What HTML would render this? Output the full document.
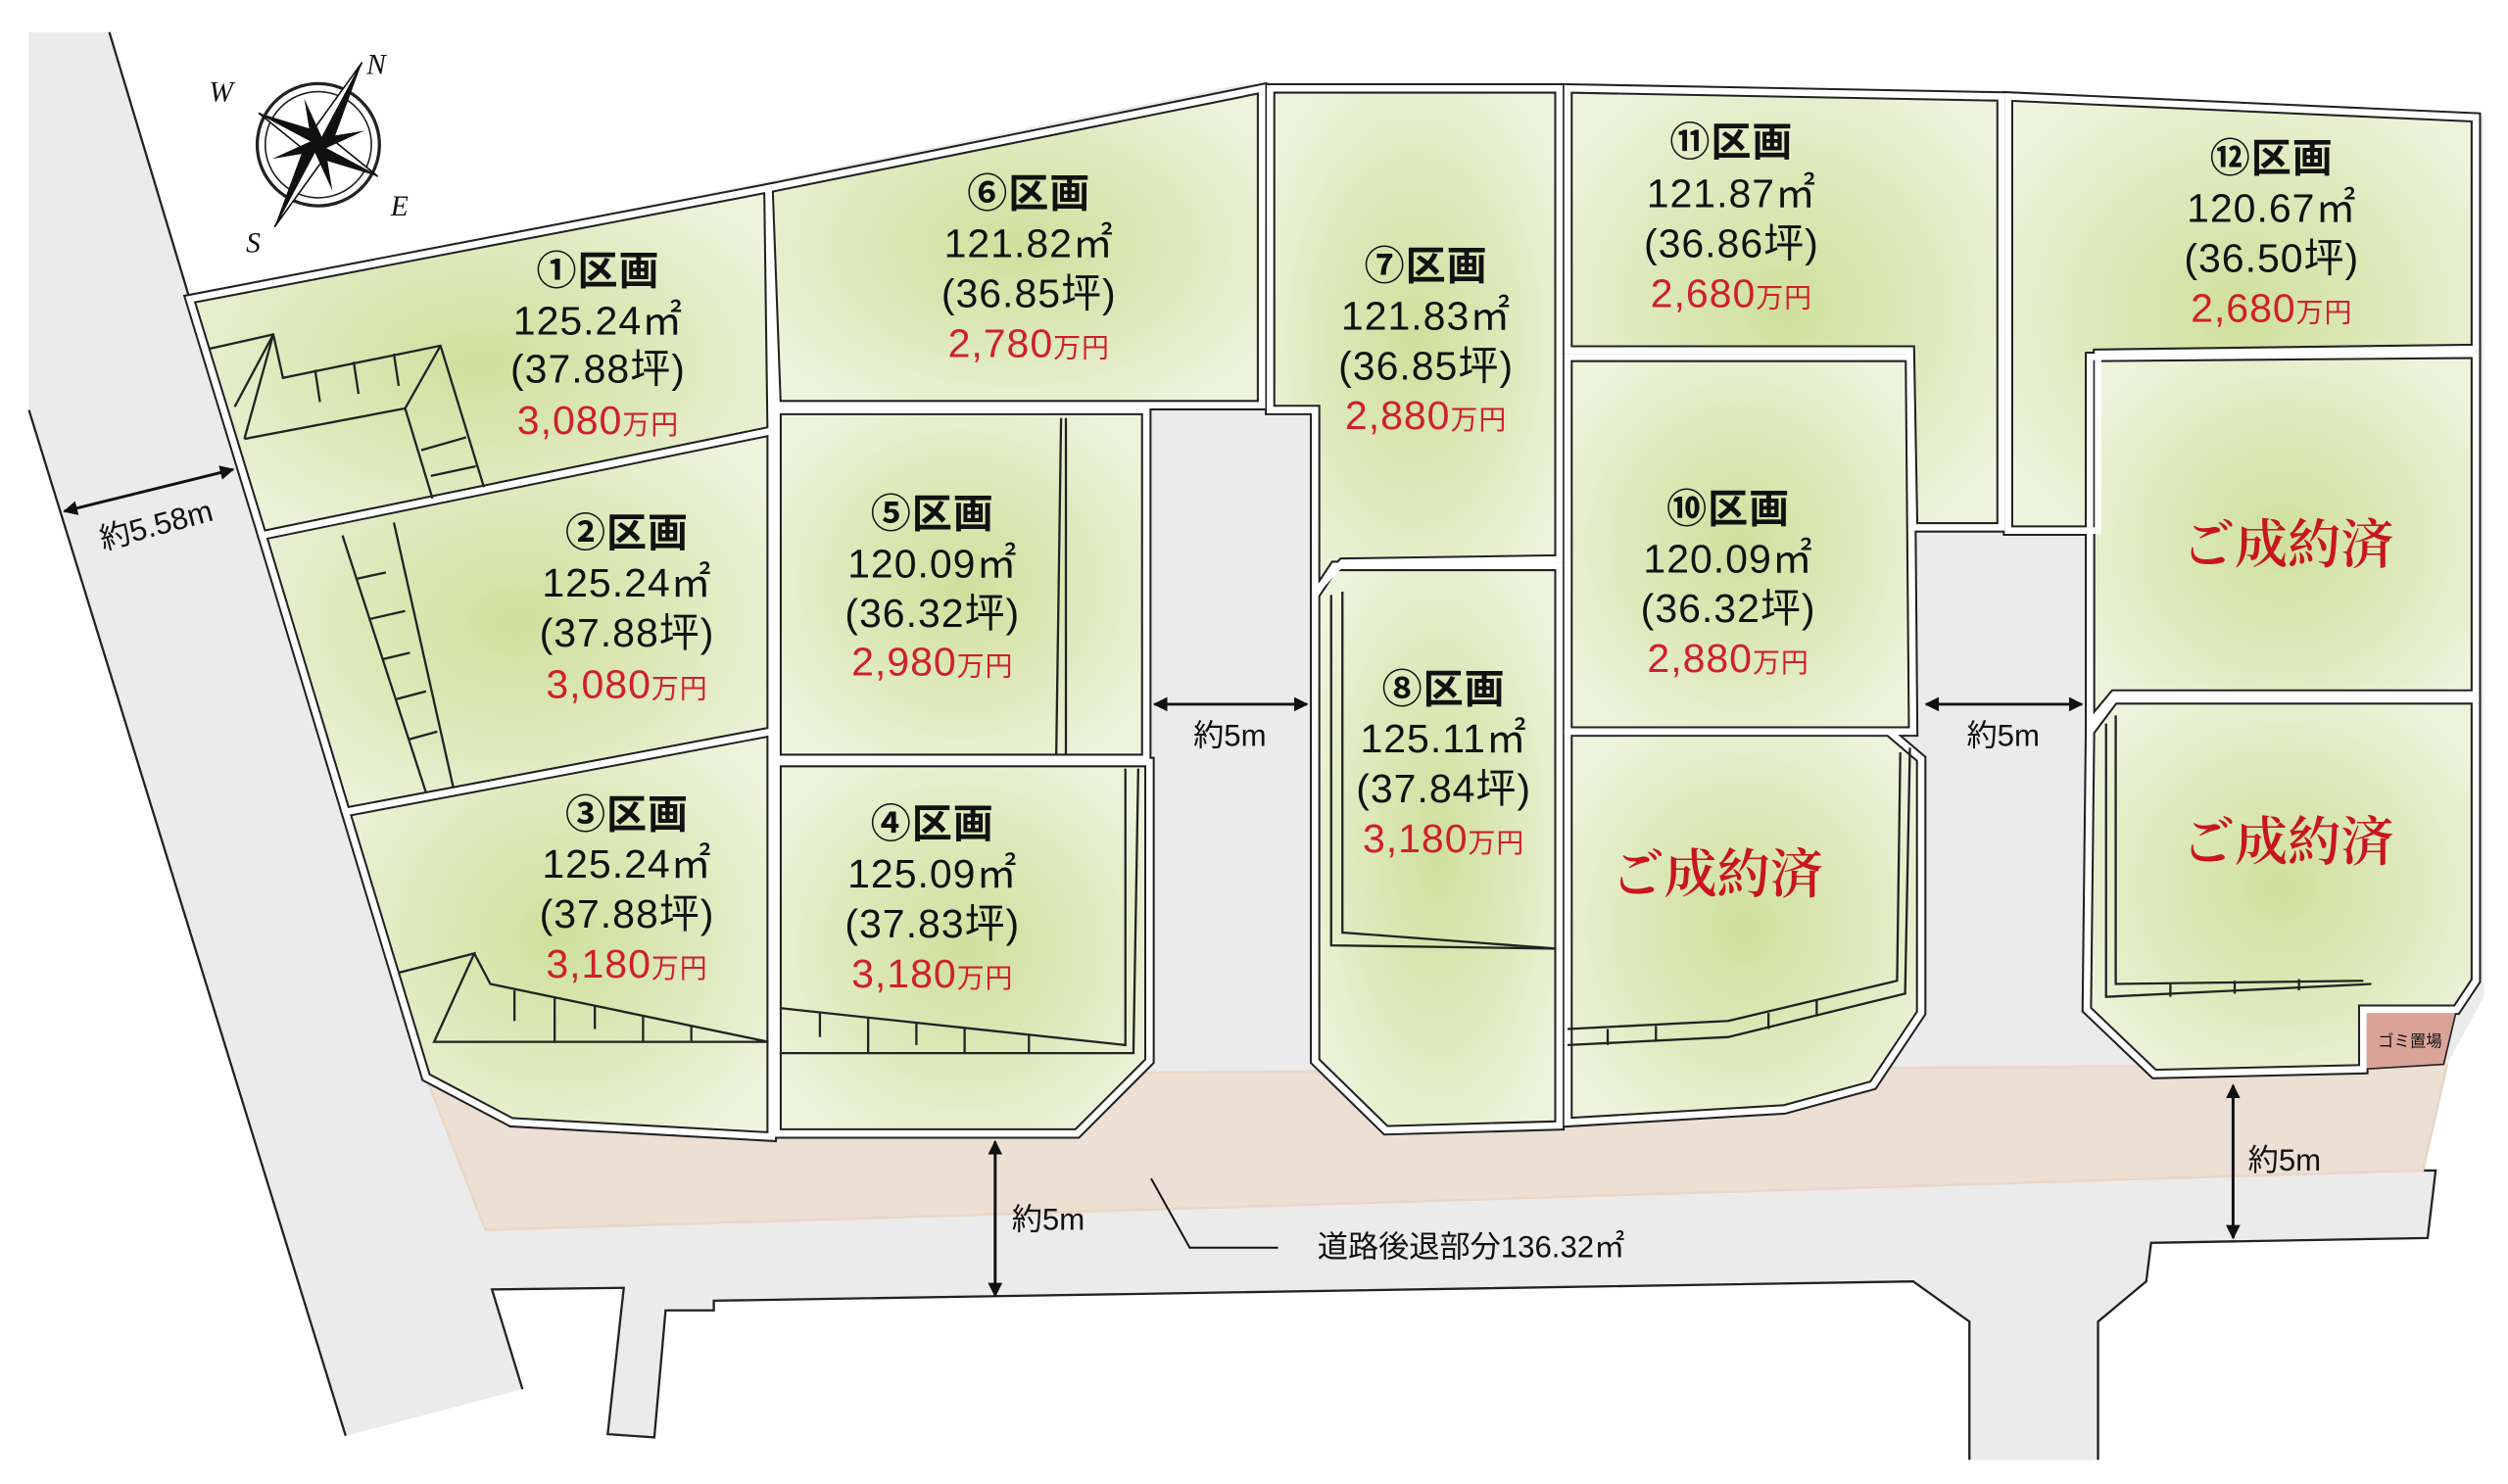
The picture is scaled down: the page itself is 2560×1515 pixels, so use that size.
<!DOCTYPE html>
<html><head><meta charset="utf-8"><style>
html,body{margin:0;padding:0;background:#fff;}
svg{display:block;}
.t{font-family:"Liberation Sans","Noto Sans CJK JP",sans-serif;text-anchor:middle;fill:#111;}
.n{letter-spacing:0.6px;}
.p{fill:#d0202a;}
.s{font-family:"Noto Serif CJK SC","Liberation Serif",serif;text-anchor:middle;fill:#c8161d;font-size:33px;font-weight:600;}
.lot{fill:url(#g);stroke:#222;stroke-width:6.5;stroke-linejoin:miter;}
.lot2{fill:none;stroke:#fff;stroke-width:4;stroke-linejoin:miter;}
.pk{fill:none;stroke:#222;stroke-width:1.4;}
.ln{fill:none;stroke:#222;stroke-width:1.4;}
</style></head><body>
<svg width="2560" height="1515" viewBox="0 0 1560 923" preserveAspectRatio="none" xmlns="http://www.w3.org/2000/svg">
<defs>
<radialGradient id="g" cx="0.5" cy="0.5" r="0.6">
<stop offset="0" stop-color="#cfe09c"/><stop offset="0.6" stop-color="#e0eabf"/><stop offset="1" stop-color="#eef3dc"/>
</radialGradient>
<marker id="a" viewBox="0 0 10 10" refX="9" refY="5" markerWidth="5" markerHeight="5" orient="auto-start-reverse"><path d="M0,0L10,5L0,10z" fill="#111"/></marker>
</defs>
<rect width="1560" height="923" fill="#fff"/>
<polygon fill="#ebebeb" points="18,20 68,20 118,186 775,52 1545,73 1545,620 1522,662 1507,728 1515,728 1510,770 1338,773 1335,797 1305,822 1305,908 1225,908 1225,822 1190,797 444,809 444,815 414,815 407,894 378,892 388,801 306,802 325,864 215,893 18,255"/>
<polyline class="ln" points="18,255 215,893"/>
<polyline class="ln" points="68,20 118,186"/>
<polyline class="ln" points="325,864 306,802 388,801 378,892 407,894 414,815 444,815 444,809 1190,797 1225,822 1225,908"/>
<polyline class="ln" points="1305,908 1305,822 1335,797 1338,773 1510,770 1515,728 1507,728 1522,662"/>
<polygon fill="#ecdfd3" stroke="#ead6c4" stroke-width="1.5" points="265,670 1522,662 1507,728 302,765"/>
<g>
<polygon class="lot" points="118,186 478,117 480,268 163,333"/>
<polygon class="lot" points="163,333 480,268 480,455 215,505"/>
<polygon class="lot" points="215,505 480,455 480,707 318,698 265,670"/>
<polygon class="lot" points="483,474 715,474 715,660 670,705 483,705"/>
<polygon class="lot" points="483,255 713,255 713,472 483,472"/>
<polygon class="lot" points="478,117 785,55 785,252 483,252"/>
<polygon class="lot" points="790,55 970,55 970,348 835,350 818,368 818,255 790,255"/>
<polygon class="lot" points="818,370 830,352 970,352 970,700 862,703 818,660"/>
<polygon class="lot" points="975,55 1245,60 1245,328 1190,328 1188,218 975,218"/>
<polygon class="lot" points="975,222 1188,222 1190,455 975,455"/>
<polygon class="lot" points="975,455 1175,455 1195,472 1195,630 1165,675 1110,690 975,698"/>
<polygon class="lot" points="1249,60 1540,73 1540,217 1305,220 1305,330 1249,330"/>
<polygon class="lot" points="1300,222 1540,220 1540,432 1315,432 1300,450"/>
<polygon class="lot" points="1300,455 1315,435 1540,435 1540,610 1528,628 1470,628 1470,665 1340,668 1298,628"/>
<polygon points="1470,628 1528,628 1520,662 1470,665" fill="#d9a398" stroke="#222" stroke-width="1"/>
</g>
<g>
<polygon class="lot2" points="118,186 478,117 480,268 163,333"/>
<polygon class="lot2" points="163,333 480,268 480,455 215,505"/>
<polygon class="lot2" points="215,505 480,455 480,707 318,698 265,670"/>
<polygon class="lot2" points="483,474 715,474 715,660 670,705 483,705"/>
<polygon class="lot2" points="483,255 713,255 713,472 483,472"/>
<polygon class="lot2" points="478,117 785,55 785,252 483,252"/>
<polygon class="lot2" points="790,55 970,55 970,348 835,350 818,368 818,255 790,255"/>
<polygon class="lot2" points="818,370 830,352 970,352 970,700 862,703 818,660"/>
<polygon class="lot2" points="975,55 1245,60 1245,328 1190,328 1188,218 975,218"/>
<polygon class="lot2" points="975,222 1188,222 1190,455 975,455"/>
<polygon class="lot2" points="975,455 1175,455 1195,472 1195,630 1165,675 1110,690 975,698"/>
<polygon class="lot2" points="1249,60 1540,73 1540,217 1305,220 1305,330 1249,330"/>
<polygon class="lot2" points="1300,222 1540,220 1540,432 1315,432 1300,450"/>
<polygon class="lot2" points="1300,455 1315,435 1540,435 1540,610 1528,628 1470,628 1470,665 1340,668 1298,628"/>
</g>
<g class="pk">
<polyline points="130,217 170,208 176,235 274,215 301,303"/>
<polyline points="146,253 170,208"/><polyline points="152,273 252,254 269,310"/><polyline points="170,208 152,273"/><polyline points="274,215 252,254"/>
<line x1="196" y1="230" x2="199" y2="250"/><line x1="220" y1="225" x2="223" y2="245"/><line x1="245" y1="220" x2="248" y2="240"/><line x1="262" y1="280" x2="290" y2="272"/><line x1="268" y1="296" x2="296" y2="290"/>
<polyline points="213,333 265,493"/><polyline points="245,325 282,490"/>
<line x1="222" y1="360" x2="240" y2="356"/><line x1="230" y1="385" x2="252" y2="380"/><line x1="238" y1="410" x2="255" y2="406"/><line x1="246" y1="435" x2="265" y2="430"/><line x1="254" y1="460" x2="272" y2="455"/>
<polyline points="248,605 295,593 270,648 478,648 305,612 295,593"/>
<line x1="320" y1="616" x2="320" y2="635"/><line x1="345" y1="621" x2="345" y2="648"/><line x1="370" y1="626" x2="370" y2="640"/><line x1="400" y1="632" x2="400" y2="648"/><line x1="430" y1="638" x2="430" y2="648"/>
<polyline points="485,627 700,650 700,478"/><polyline points="485,655 705,655 708,478"/>
<line x1="510" y1="630" x2="510" y2="645"/><line x1="540" y1="633" x2="540" y2="655"/><line x1="570" y1="636" x2="570" y2="650"/><line x1="600" y1="639" x2="600" y2="655"/><line x1="640" y1="644" x2="640" y2="655"/>
<polyline points="660,260 657,470"/><polyline points="663,260 663,470"/>
<polyline points="828,370 828,588 968,590"/><polyline points="835,368 835,580 968,590"/>
<polyline points="975,640 1075,635 1180,610 1182,468"/><polyline points="975,650 1075,645 1185,618 1188,465"/>
<line x1="1000" y1="640" x2="1000" y2="650"/><line x1="1030" y1="638" x2="1030" y2="648"/><line x1="1100" y1="630" x2="1100" y2="640"/><line x1="1130" y1="622" x2="1130" y2="632"/>
<polyline points="1310,450 1310,620 1475,612"/><polyline points="1316,445 1316,612 1470,610"/>
<line x1="1350" y1="612" x2="1350" y2="620"/><line x1="1390" y1="610" x2="1390" y2="618"/><line x1="1430" y1="609" x2="1430" y2="616"/>
</g>
<g transform="translate(198,90) rotate(28)">
<circle r="38" fill="none" stroke="#222" stroke-width="2"/><circle r="33" fill="none" stroke="#222" stroke-width="1"/>
<polygon points="0,-58 7,-7 0,0" fill="#111"/><polygon points="0,-58 -7,-7 0,0" fill="#fff" stroke="#111"/>
<polygon points="0,58 -7,7 0,0" fill="#111"/><polygon points="0,58 7,7 0,0" fill="#fff" stroke="#111"/>
<polygon points="42,0 6,7 0,0" fill="#111"/><polygon points="42,0 6,-7 0,0" fill="#fff" stroke="#111"/>
<polygon points="-42,0 -6,-7 0,0" fill="#111"/><polygon points="-42,0 -6,7 0,0" fill="#fff" stroke="#111"/>
<g transform="rotate(45)"><polygon points="0,-30 4,0 0,30 -4,0" fill="#111"/><polygon points="-30,0 0,4 30,0 0,-4" fill="#111"/></g>
</g>
<g font-family="Liberation Serif,serif" font-style="italic" font-size="18" fill="#111">
<text x="228" y="46">N</text><text x="130" y="63">W</text><text x="243" y="134">E</text><text x="153" y="157">S</text>
</g>
<g class="t n" font-size="25">
<text x="372" y="177" font-weight="bold">①区画</text><text x="372" y="208">125.24㎡</text><text x="372" y="238">(37.88坪)</text><text x="372" y="270" class="t p">3,080<tspan font-size="17">万円</tspan></text>
<text x="390" y="340" font-weight="bold">②区画</text><text x="390" y="371">125.24㎡</text><text x="390" y="402">(37.88坪)</text><text x="390" y="434" class="t p">3,080<tspan font-size="17">万円</tspan></text>
<text x="390" y="515" font-weight="bold">③区画</text><text x="390" y="546">125.24㎡</text><text x="390" y="577">(37.88坪)</text><text x="390" y="608" class="t p">3,180<tspan font-size="17">万円</tspan></text>
<text x="580" y="521" font-weight="bold">④区画</text><text x="580" y="552">125.09㎡</text><text x="580" y="583">(37.83坪)</text><text x="580" y="614" class="t p">3,180<tspan font-size="17">万円</tspan></text>
<text x="580" y="328" font-weight="bold">⑤区画</text><text x="580" y="359">120.09㎡</text><text x="580" y="390">(36.32坪)</text><text x="580" y="420" class="t p">2,980<tspan font-size="17">万円</tspan></text>
<text x="640" y="129" font-weight="bold">⑥区画</text><text x="640" y="160">121.82㎡</text><text x="640" y="191">(36.85坪)</text><text x="640" y="222" class="t p">2,780<tspan font-size="17">万円</tspan></text>
<text x="887" y="174" font-weight="bold">⑦区画</text><text x="887" y="205">121.83㎡</text><text x="887" y="236">(36.85坪)</text><text x="887" y="267" class="t p">2,880<tspan font-size="17">万円</tspan></text>
<text x="898" y="437" font-weight="bold">⑧区画</text><text x="898" y="468">125.11㎡</text><text x="898" y="499">(37.84坪)</text><text x="898" y="530" class="t p">3,180<tspan font-size="17">万円</tspan></text>
<text x="1077" y="97" font-weight="bold">⑪区画</text><text x="1077" y="129">121.87㎡</text><text x="1077" y="160">(36.86坪)</text><text x="1077" y="191" class="t p">2,680<tspan font-size="17">万円</tspan></text>
<text x="1075" y="325" font-weight="bold">⑩区画</text><text x="1075" y="356">120.09㎡</text><text x="1075" y="387">(36.32坪)</text><text x="1075" y="418" class="t p">2,880<tspan font-size="17">万円</tspan></text>
<text x="1413" y="107" font-weight="bold">⑫区画</text><text x="1413" y="138">120.67㎡</text><text x="1413" y="169">(36.50坪)</text><text x="1413" y="200" class="t p">2,680<tspan font-size="17">万円</tspan></text>
</g>
<text class="s" x="1068" y="555">ご成約済</text>
<text class="s" x="1423" y="350">ご成約済</text>
<text class="s" x="1423" y="535">ご成約済</text>
<text class="t" x="1499" y="651" font-size="10">ゴミ置場</text>
<g stroke="#111" stroke-width="1.8" fill="none">
<line x1="40" y1="318" x2="145" y2="292" marker-start="url(#a)" marker-end="url(#a)"/>
<line x1="718" y1="438" x2="813" y2="438" marker-start="url(#a)" marker-end="url(#a)"/>
<line x1="1198" y1="438" x2="1295" y2="438" marker-start="url(#a)" marker-end="url(#a)"/>
<line x1="619" y1="710" x2="619" y2="806" marker-start="url(#a)" marker-end="url(#a)"/>
<line x1="1389" y1="675" x2="1389" y2="770" marker-start="url(#a)" marker-end="url(#a)"/>
</g>
<polyline points="716,733 740,776 795,776" fill="none" stroke="#111" stroke-width="1.2"/>
<g class="t" font-size="19">
<text x="97" y="333" transform="rotate(-15 97 326)">約5.58m</text>
<text x="765" y="464">約5m</text>
<text x="1246" y="464">約5m</text>
<text x="652" y="765">約5m</text>
<text x="1421" y="728">約5m</text>
<text x="915" y="782">道路後退部分136.32㎡</text>
</g>
</svg>
</body></html>
